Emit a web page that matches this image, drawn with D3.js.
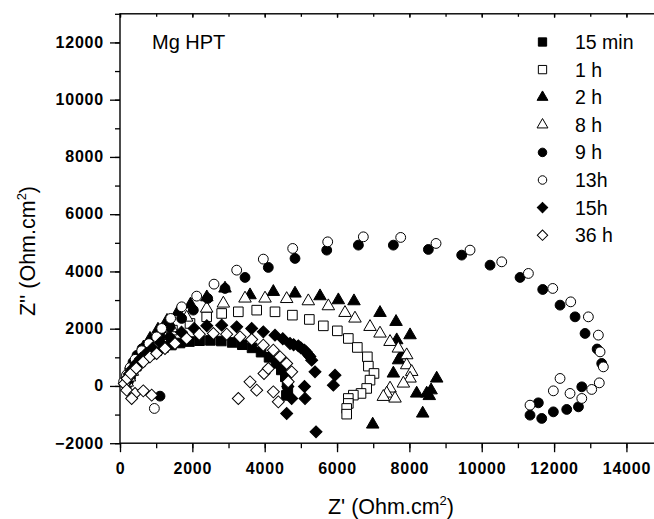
<!DOCTYPE html>
<html><head><meta charset="utf-8">
<script src="https://cdn.jsdelivr.net/npm/d3@7/dist/d3.min.js"></script>
<style>
body{margin:0;background:#fff;}
svg{display:block;}
text{font-family:"Liberation Sans",Arial,sans-serif;fill:#000;}
</style></head>
<body><svg id="c" width="654" height="519"></svg>
<script>
// ---- data (Z' , Z'') in Ohm.cm2 ----
const seriesNames = ["15 min","1 h","2 h","8 h","9 h","13h","15h","36 h"];
const xTicks = [0,2000,4000,6000,8000,10000,12000,14000];
const yTicks = [-2000,0,2000,4000,6000,8000,10000,12000];

const d15min = [[180,120],[230,260],[290,400],[360,540],[450,690],[560,840],[690,980],[840,1110],[1010,1230],[1200,1340],[1420,1430],[1660,1500],[1920,1550],[2200,1580],[2500,1590],[2800,1570],[3100,1520],[3380,1440],[3650,1330],[3900,1180],[4120,1000],[4310,790],[4460,560],[4570,320],[4620,80],[4640,-120],[4600,-330]];
const d1h = [[180,140],[240,320],[320,520],[420,730],[550,950],[720,1200],[920,1450],[1150,1700],[1450,1950],[1935,2183],[2396,2415],[2811,2532],[3271,2590],[3779,2648],[4285,2590],[4766,2473],[5234,2323],[5621,2100],[6008,1925],[6312,1659],[6561,1345],[6838,1017],[6866,692],[7022,437],[6912,203],[6820,-87],[6663,-262],[6451,-321],[6312,-437],[6312,-611],[6267,-786],[6267,-985]];
const d2h = [[170,150],[220,330],[290,540],[380,780],[500,1050],[650,1350],[830,1650],[1050,1970],[1300,2280],[1600,2580],[1950,2850],[2400,3100],[2903,3406],[3594,3172],[4239,3288],[4838,3231],[5529,3137],[6036,2997],[6468,2962],[7188,2554],[7631,2240],[8018,1775],[7650,1600],[7788,1076],[7700,900],[7557,437],[8755,262],[8600,-150],[8479,-262],[8550,-350],[8202,-262],[8368,-961],[6986,-1345]];
const d8h = [[200,120],[260,300],[340,500],[440,720],[570,960],[730,1220],[920,1480],[1150,1750],[1420,2020],[1843,2390],[2396,2706],[2857,2882],[3456,3057],[4009,3057],[4608,3040],[5206,2962],[5760,2788],[6220,2554],[6496,2358],[6912,2065],[7188,1834],[7465,1541],[7695,1310],[7926,1076],[7926,727],[8064,493],[8018,262],[7834,87],[7465,-87],[7373,-262],[7280,-379],[7603,-437]];
const d9h = [[150,160],[200,360],[270,590],[360,830],[470,1070],[610,1300],[800,1500],[1106,1715],[1382,2065],[1705,2358],[2027,2648],[2424,3057],[2903,3406],[3456,3790],[4100,4140],[4838,4454],[5715,4744],[6590,4919],[7557,4919],[8525,4768],[9446,4570],[10230,4220],[11059,3790],[11686,3370],[12165,2823],[12580,2414],[12856,1834],[13190,1290],[13317,786],[12766,-31],[12674,-730],[12350,-821],[11980,-905],[11659,-1135],[11335,-1020],[11565,-590],[1106,-356]];
const d13h = [[100,150],[180,380],[280,640],[420,930],[600,1230],[800,1480],[1014,1715],[1152,2009],[1400,2358],[1705,2764],[2120,3137],[2599,3556],[3226,4045],[3962,4430],[4774,4803],[5742,5034],[6727,5209],[7760,5188],[8737,4978],[9677,4744],[10553,4336],[11290,3930],[11963,3406],[12460,2938],[12948,2414],[13224,1775],[13271,1191],[13362,667],[13250,108],[13040,-122],[12766,-437],[12441,-262],[12165,262],[11980,-171],[11335,-671],[950,-786]];
const d15h = [[150,100],[200,260],[260,420],[340,590],[440,770],[570,950],[720,1130],[900,1320],[1120,1510],[1380,1700],[1700,1880],[2050,2010],[2400,2100],[2811,2124],[3226,2065],[3641,2009],[3962,1890],[4285,1775],[4500,1650],[4700,1485],[4800,1440],[4930,1400],[5000,1330],[5100,1250],[5150,1190],[5200,1100],[5250,1030],[5299,901],[5391,493],[5944,377],[5898,28],[5100,-20],[5115,-437],[4608,-961],[5419,-1603],[4746,-437],[4640,-20]];
const d36h = [[120,80],[200,260],[300,430],[450,620],[644,842],[829,1017],[1014,1135],[1244,1310],[1520,1485],[1843,1659],[2193,1810],[2580,1834],[2949,1810],[3318,1715],[3641,1624],[3962,1425],[4239,1251],[4424,1017],[4608,786],[4746,493],[4650,150],[3271,-437],[3594,143],[3779,-147],[3981,437],[4100,611],[4239,-206],[4377,-555],[185,-147],[415,-262],[644,-171],[323,-437],[876,-321]];

const seriesData = [d15min,d1h,d2h,d8h,d9h,d13h,d15h,d36h];
const seriesFilled = [true,false,true,false,true,false,true,false];
const seriesShape = ["square","square","triangle","triangle","circle","circle","diamond","diamond"];

// ---- drawing ----
const svg = d3.select("#c");
const x = d3.scaleLinear().domain([0,15000]).range([120,662.6]);
const y = d3.scaleLinear().domain([-2000,13000]).range([443.2,13.8]);

const symType = {square:d3.symbolSquare, triangle:d3.symbolTriangle, circle:d3.symbolCircle, diamond:d3.symbolSquare};
const symSize = {square:92, triangle:68, circle:76, diamond:72};
const symRot = {square:0, triangle:0, circle:0, diamond:45};

const fontTick = "bold 16px 'Liberation Sans', Arial, sans-serif";

// minor ticks
const minorX = d3.range(0,15001,1000);
const minorY = d3.range(-2000,13001,1000);

svg.append("g").attr("transform","translate(0,443.2)")
  .call(d3.axisBottom(x).tickValues(minorX).tickSize(5).tickSizeOuter(0).tickFormat(""))
  .call(g=>g.select(".domain").remove());
svg.append("g").attr("transform","translate(120,0)")
  .call(d3.axisLeft(y).tickValues(minorY).tickSize(5).tickSizeOuter(0).tickFormat(""))
  .call(g=>g.select(".domain").remove());
svg.append("g").attr("transform","translate(0,13.8)")
  .call(d3.axisBottom(x).tickValues(minorX).tickSize(3).tickSizeOuter(0).tickFormat(""))
  .call(g=>g.select(".domain").remove());

// major ticks
const gx = svg.append("g").attr("transform","translate(0,443.2)")
  .call(d3.axisBottom(x).tickValues(xTicks).tickSize(9).tickPadding(10).tickSizeOuter(0).tickFormat(d3.format("d")));
gx.select(".domain").remove();
gx.selectAll("text").style("font",fontTick).style("letter-spacing","0.8px").attr("fill","#000");

const gy = svg.append("g").attr("transform","translate(120,0)")
  .call(d3.axisLeft(y).tickValues(yTicks).tickSize(10).tickPadding(6).tickSizeOuter(0).tickFormat(d3.format("d")));
gy.select(".domain").remove();
gy.selectAll("text").style("font",fontTick).style("letter-spacing","0.8px").attr("fill","#000").attr("dy","0.3em");

svg.append("g").attr("transform","translate(0,13.8)")
  .call(d3.axisBottom(x).tickValues(xTicks).tickSize(4).tickSizeOuter(0).tickFormat(""))
  .call(g=>g.select(".domain").remove());

svg.selectAll(".tick line").attr("stroke","#000").attr("stroke-width",1.3);

// frame
svg.append("rect").attr("x",x(0)).attr("y",y(13000))
  .attr("width",x(15000)-x(0)).attr("height",y(-2000)-y(13000))
  .attr("fill","none").attr("stroke","#000").attr("stroke-width",1.4);

// points
function sym(shape, scale){
  return d3.symbol().type(symType[shape]).size(symSize[shape]*(scale||1));
}
seriesData.forEach((data,i)=>{
  const shape = seriesShape[i];
  svg.append("g").selectAll("path").data(data).join("path")
    .attr("d", sym(shape))
    .attr("transform", d=>`translate(${x(d[0])},${y(d[1])}) rotate(${symRot[shape]})`)
    .attr("fill", seriesFilled[i] ? "#000" : "#fff")
    .attr("stroke","#000").attr("stroke-width",1);
});

// legend
const lg = svg.append("g");
seriesNames.forEach((nm,i)=>{
  const cy = 42 + i*27.6;
  const shape = seriesShape[i];
  lg.append("path").attr("d", sym(shape,0.75))
    .attr("transform",`translate(542.5,${cy}) rotate(${symRot[shape]})`)
    .attr("fill", seriesFilled[i] ? "#000" : "#fff")
    .attr("stroke","#000").attr("stroke-width",1);
  lg.append("text").attr("x",575).attr("y",cy+7).style("font-size","19.5px").text(nm);
});

// annotation
svg.append("text").attr("x",152).attr("y",49).style("font-size","20px").text("Mg HPT");

// axis titles
const xt = svg.append("text").attr("x",391).attr("y",514).attr("text-anchor","middle").style("font-size","21.5px");
xt.append("tspan").text("Z' (Ohm.cm");
xt.append("tspan").attr("dy","-9").style("font-size","13px").text("2");
xt.append("tspan").attr("dy","9").text(")");

const yt = svg.append("text").attr("transform","translate(35,251) rotate(-90)").attr("text-anchor","middle").style("font-size","21.5px");
yt.append("tspan").text("Z'' (Ohm.cm");
yt.append("tspan").attr("dy","-9").style("font-size","13px").text("2");
yt.append("tspan").attr("dy","9").text(")");
</script></body></html>
